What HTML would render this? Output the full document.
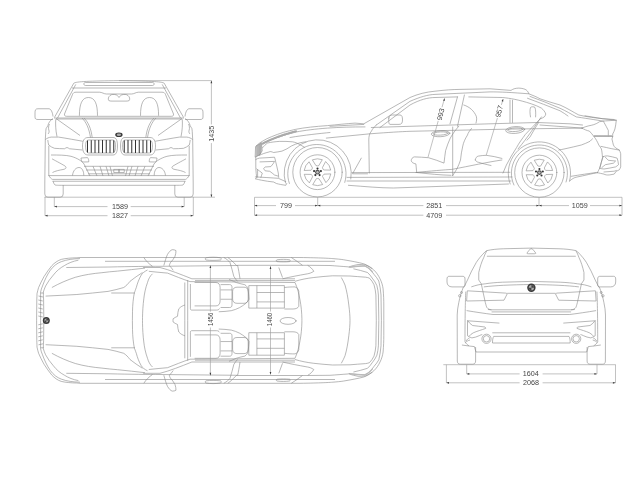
<!DOCTYPE html>
<html><head><meta charset="utf-8">
<style>
html,body{margin:0;padding:0;background:#fff;width:640px;height:480px;overflow:hidden}
svg{display:block;will-change:transform}
.l{fill:none;stroke:#888;stroke-width:0.6;stroke-linecap:round;stroke-linejoin:round}
.d{fill:none;stroke:#999;stroke-width:0.6}
.t{font-family:"Liberation Sans",sans-serif;font-size:7.2px;fill:#444;opacity:0.99}
</style></head><body>
<svg width="640" height="480" viewBox="0 0 640 480">
<defs>
<g id="fronthalf" class="l" style="stroke-linecap:butt">
<path d="M73.8,83.2 C76,81.5 90,81 119,80.6"/>
<path d="M119,82.5 L85.5,82.5 C84.3,82.5 83.9,83.2 83.9,84 C83.9,84.9 84.5,85.5 85.5,85.5 L119,85.5"/>
<path d="M72,88 L119,88"/>
<path d="M73.8,83.2 L54.4,117.5 M75.8,84.4 L57.5,118"/>
<path d="M119,94 L106.5,94 C104,94 102,92.2 99.4,92.2 L76,92.2 C74,92.2 73,93 72.5,94.5 L64.5,114 C64.2,115.5 65,116.3 66.5,116.3 L119,116.3"/>
<path d="M79.4,115.8 C79.4,104 82,97.5 88.4,97.5 C95,97.5 97.5,104 97.5,115.8"/>
<path d="M119,97.5 C118,96 117,95 116,94.8 C114,94.2 111.5,94.2 110,95.5 C108.3,97 107.8,99 108.8,100.5 C109.5,101 110.5,101.1 112,101.1 L119,101.1"/>
<path d="M54,118 L119,118 M56,119 L119,119"/>
<path d="M53,116.5 C52.5,112 51,109 49,108.75 L38,108.75 C35.5,108.75 35,110 35,113 L35,117 C35,119 36,119.5 38,119.5 L53,119.5"/>
<path d="M56,118.5 L80,135.5"/>
<path d="M82,118 C86,122 89,128 90.5,137.5 M84,118 C88,122 91,128 92.2,137.5"/>
<path d="M52.8,118.5 C50,120.5 48.5,123 47.8,125.8 C47.3,126.8 46.6,127.6 46.2,128.3 C45.9,129.5 45.8,130.5 45.75,131.7 L45.3,139.6 L44.8,183 M49.5,124 C48.5,126 48.3,128 48.8,130 C49.5,131.5 49,133 48,134 M55.75,119.2 C55.4,124 55.6,130 57,136.7"/>
<path d="M48.8,145.8 L48.8,176"/>
<path d="M45.3,139.6 C47,138.2 49,137.3 51.2,137.1 L58.7,137.1 C63,137.7 67,138.5 71.2,139.2 C75,139.9 79,140.6 82.8,141.25 M47.8,140 C48,141.8 48.3,143.5 48.7,145 C50.5,146.5 52.3,147.6 54.5,148.3 C58,148.6 61,148.7 64.5,148.75 C65.5,148.3 66.2,147.5 67,147.5 C67.8,147.5 68.6,148.4 69.5,148.75 C74,149.2 78,149.6 82.4,150"/>
<path d="M51,155 C58,155 66,155 71,156.3 C77,158 82,161 84,164 C86,168 88,172 90,176"/>
<path d="M52,158.8 C54,160 60,163 65,166 C67,167.5 66,169 63,169.5 C60,170 55,171 52.5,172.5"/>
<path d="M72.5,175.5 C73,170.5 76,167.5 79,167.5 C82,167.5 83.8,171 83.8,175.5"/>
<path d="M81,158 L87.5,157.6 C88.5,158.5 88.9,160.5 88.7,161.9 L82.5,162 C81.5,161 81,159.5 81,158 Z"/>
<path d="M84,166.3 L119,166.3 M86,170 L119,170 M88,173.8 L119,173.8"/>
<path d="M93,166.3 L97,176 M100,166.3 L103,176 M106,166.3 L109,176 M110,166.3 L112.5,176"/>
<path d="M113.75,169.4 L119,169.4 L119,172.5 L113.75,172.5 Z"/>
<path d="M48.8,175.6 L119,175.6 M52.5,179.4 L119,179.4 M52.5,181.25 L119,181.25 M63.2,185.3 L119,185.3" />
<path d="M48.8,175.6 C50,177.5 51,178.8 52.5,179.4 M53.1,181.25 C53.5,182.8 54,184 55,185 C56,185.3 58,185.3 63.2,185.3"/>
<path d="M44.8,183 L44.8,194 Q44.8,197.2 47.8,197.2 L60.2,197.2 Q63.2,197.2 63.2,194 L63.2,185"/>
<path d="M82.5,146 C82.5,141 84,137.5 88,137.5 L113,137.5 C116,137.5 117.5,140 117.5,146 C117.5,152 116,155 113,155 L88,155 C84,155 82.5,151 82.5,146 Z"/>
<path d="M85.6,146 C85.6,142 86.5,140 89,140 L112.5,140 C114.5,140 115.6,142 115.6,146 C115.6,150 114.5,153 112.5,153 L89,153 C86.5,153 85.6,150 85.6,146 Z"/>
<path d="M87.5,140.5V152.5 M91.25,140.2V152.8 M95,140V153 M98.75,140V153 M102.5,140V153 M106.25,140V153 M110,140V153 M113.75,140.3V152.7" style="stroke:#333;stroke-width:1"/>
</g>
</defs>

<!-- FRONT VIEW -->
<use href="#fronthalf"/>
<use href="#fronthalf" transform="translate(238,0) scale(-1,1)"/>
<ellipse cx="118.9" cy="134.8" rx="3.7" ry="2.3" fill="#3a3a3a"/><ellipse cx="118.9" cy="134.8" rx="2.2" ry="1.3" fill="#aaa"/>

<!-- front dims -->
<g class="d">
<path d="M119,80.6 L211.5,80.6"/>
<path d="M211.4,80.6 L211.4,124.4 M211.4,143.1 L211.4,197"/>
<path d="M44.5,197.2 L215,197.2"/>
<path d="M45,197 L45,215.7 M54.3,197 L54.3,206.6 M184.2,197 L184.2,206.6 M193.3,197 L193.3,215.7"/>
<path d="M54.3,206.6 L107.5,206.6 M130.7,206.6 L184.2,206.6"/>
<path d="M45,215.7 L107.5,215.7 M130.7,215.7 L193.3,215.7"/>
</g>
<text class="t" x="120" y="209.2" text-anchor="middle">1589</text>
<text class="t" x="120" y="218.3" text-anchor="middle">1827</text>
<text class="t" transform="translate(214,133.75) rotate(-90)" text-anchor="middle">1435</text>

<!-- SIDE VIEW -->
<g class="l">
<!-- outer body -->
<path d="M256,146.1 C258,144.2 260,142.6 262.2,141.4 C265,139.6 268,138 271.5,136.7 C275.5,135.1 279.3,133.6 283.3,132.4 C287.5,131.2 291.5,130.2 295.8,129.3 C305,127.5 315,126.5 327.5,125.6 C337,124.7 347,123.6 355,123.1 L363.8,123.8 L410,97.5 C418,94 426,92 435,91.2 C445,90 452,89.5 460,89.4 L490,88.8 L511,90.4 C513,89 515,88.2 518.8,88.1 C522,88.2 525,89 526.3,90 C527.5,91 528.5,92.5 528.8,93.8 C533,95.5 537,97 540,98.8 C547,101.2 553,103 560,105 C567,108 573,112 578.8,115 C587,117 596,118 603.8,118.8 L616.3,120.2 C616,123.5 615.5,126.5 614.9,129 C614.3,131 613.5,132.6 612.7,134 L612.7,137 C612.3,137.8 612,138.5 612,139.2 C612.5,141.5 613,143.3 613.4,145 C614,146.2 614.7,147.2 615.6,147.9 C617,148.7 618.2,149.4 619.3,150.1 C619.9,151.2 620.4,152.4 620.7,153.7 L620.7,166.9 C620.3,168 619.8,169 619.3,169.8 C618.3,170.4 617.3,170.8 616.3,171.2 C615.6,172.2 614.9,173.2 614.2,174.1 L609.8,174.9 C607,175.2 605,174.8 604,174.1 C601.5,173.5 599.5,173.2 597.4,172.7"/>
<path d="M255.8,157 L255.8,168.5 C256,172 256.4,175 256.7,177.8 L255.3,178.8 C258,179.5 259.5,179.8 261.4,180.2 C265,181 270,181.6 273.6,182 C274.5,182.6 275.5,183.1 276.4,183.5 C279,184.2 282,184.8 285.8,185.3 L286.7,183.5"/>
<!-- hood lines -->
<path d="M262,144.4 C265,142.8 268,141.2 271.5,139.7 C275,138.2 279,136.8 283.3,135.5 C287.5,134.3 291.5,133 296,132 C305,130.3 315,129 327.5,128.1 C340,127.2 352,126.9 365,126.9"/><path d="M263,143.4 C266,141.9 269,140.4 272,139.2 C276,137.6 280,136.1 283.3,135 C287.5,133.6 291.5,132.5 296,131.3" style="stroke:#aaa;stroke-width:2.2;stroke-dasharray:0.4 1.2"/>
<path d="M262.3,148 C264,146 265.5,144.5 267.6,143 C271,142.2 275,141.7 279.3,141.4 C284,141.3 288,141.4 292.6,141.8 C295,142.3 297,143 299.7,144.5 L304.4,147.2 M290,137.5 C305,135 320,133.5 330,132.5"/>
<path d="M326.3,138.1 L370,133.8 C390,132.3 400,131.7 410,131.3 L490,129.5 C520,128.9 550,128.5 582.5,128.1"/>
<!-- cowl -->
<path d="M330,126.3 L363.8,124.4"/>
<!-- A pillar lines -->
<path d="M376.3,125 L410,101.3 C420,97 428,94.6 435,94.4 L490,91.9 C500,91.8 512,92.5 528.8,93.8"/>
<path d="M380,127.5 L410,105 C420,99.5 428,97.6 435,97.5 L457.5,96.9"/>
<!-- front window rear edge / B pillar -->
<path d="M457.5,96.9 L450,123.8 M464.4,95 L457.5,126.3 M468.8,96.9 L502.5,97.5 C510,98.3 518,99.5 531.2,103.8 C535,105 538.5,106.5 541.4,108.1 C543.5,109.8 545,111.8 545.8,114 C545.5,115.2 545,116.2 544.3,116.9 C543,117.8 541.5,118.5 540,119"/>
<path d="M510,100 L510,122.5 M512.5,100.2 L512.5,122.5"/>
<!-- rear window lines -->
<path d="M530,96.4 C540,100 550,104 560,108.25 C566,111 571,114 576.3,116.9 C590,119 600,120.5 603.8,121.3"/>
<path d="M527.5,98.25 C538,102 549,106.5 560,110.75 C563,112.5 566,114.5 568,116"/>
<!-- beltline -->
<path d="M371.3,127.5 L410,126.3 L490,123.8 L537.5,122.5 L570,123.8 L582.5,125"/>
<path d="M540,125 L582.5,128.1"/>
<!-- mirror -->
<path d="M388.8,118 C389,116 390.5,115 392.5,115 L400,115 C402,115 402.5,117 402.5,120 C402.5,123 401.5,124.4 399,124.4 L390,124.4 C388.8,124.4 388.5,121 388.8,118 Z"/>
<!-- front door front edge -->
<path d="M376.3,125 C374,127 372.5,129 371.5,131 C369.5,133.5 368.8,136 368.8,140 L369.3,173.1"/>
<!-- B pillar/door -->
<path d="M452.7,127 L452.7,175.6"/>
<path d="M471.5,128.5 C469.5,131 468,133 467.5,135 C465,139 463.5,142.5 462.8,145.9 C461.7,150.5 461,155 460.5,160 C459.5,163 458.2,166.5 456.6,169.4 L452.7,175.6"/>
<!-- rear door rear edge -->
<path d="M540,119 C535,124.5 530,129.5 525.4,134.4 C522,139 519,143 516.6,147.5 C513,153 509.5,159 506.4,165 L503,173"/>
<path d="M541.4,116.9 C535,126 528,137 518.1,148.9 M538.5,122.7 C535.5,127.5 532.5,132.5 529.8,137.3 L526.9,140.2"/>
<!-- handles -->
<ellipse cx="440.6" cy="133.7" rx="9.3" ry="3" transform="rotate(-3 440.6 133.7)"/><ellipse cx="440.6" cy="133.5" rx="7.5" ry="1.6" transform="rotate(-3 440.6 133.5)"/>
<ellipse cx="515.2" cy="130" rx="9.5" ry="3.4" transform="rotate(-4 515.2 130)"/><ellipse cx="515.2" cy="129.7" rx="7.6" ry="1.8" transform="rotate(-4 515.2 129.7)"/>
<!-- door bottom & sills -->
<path d="M352,172.6 L510,172.3 M347,177.4 L512,177 M347,181 L511,181 M348.4,185.3 C365,186.5 380,188 393.4,188 L508.5,184"/>
<!-- fender vent -->
<path d="M361.3,158.1 L352.5,173.8 L367.5,173.8"/>
<!-- front arches -->
<path d="M285.50,183 A33.6,33.6 0 1 1 350.83,179"/>
<path d="M289.39,183.5 A29.2,29.2 0 1 1 344.77,182.4"/>
<!-- rear arches -->
<path d="M510.17,184 A31.2,31.2 0 1 1 569.58,181"/>
<path d="M513.94,185 A28.1,28.1 0 1 1 566.05,182"/>
<!-- rear bumper -->
<path d="M569.6,181 C572,179 574,177.5 577,177 C585,175.5 592,173.5 597.4,172.7 M571.3,176.3 C580,174.8 589,173.5 596.3,172.5"/>
<path d="M604,172 L614.2,171.2 L616.3,170.5"/>
<path d="M601,146.4 C605,147.2 608,147.9 611.2,148.6 L619.3,150.1 M593.8,136.3 C596,139 597.5,142 598.8,145 C599.8,146.5 600.8,147.8 601.3,148.8 C601.8,150 602.2,153.5 602.5,157.5 C601.8,161 600.8,164.5 600,167.5 C599,169.5 598.2,171.2 597.4,172.7"/>
<path d="M603.2,156.6 C604.5,156 606,155.9 607.6,155.9 C611,156.5 614,157.2 617.1,158.1 C617.8,160 618.3,162.3 618.5,164.7 C617.6,165.6 616.6,166.3 615.6,166.9 C612,167.7 608,168.4 604,169 C602.5,168.9 601,168.7 599.6,168.3 C600.5,164.4 601.8,160.5 603.2,156.6 Z M605.4,157.4 C606.5,158.3 607.5,159.3 608.3,160.3 C610.7,160.6 613.2,160.8 615.6,161 C614.9,161.8 614.2,162.5 613.4,163.2 C610.7,163.7 608,164.2 605.4,164.7 C604.2,165.6 603,166.6 601.8,167.6"/>
<path d="M592.5,138.8 C591.5,139.6 590.8,140.4 590,141.3 C587,142.8 584.2,144 581.3,145 C576,146.3 570.5,147.6 565,148.8 C562.8,149.3 560.8,149.7 558.8,150"/>
<path d="M585,115.8 C591,116.8 597,117.8 602.5,118.7 L614.2,119.5 M604,122.4 C605.5,125 607,127.8 608.3,130.4 L608.3,136.2"/>
<!-- taillight -->
<path d="M581.9,128.1 C584,127.2 586.5,126.3 588.8,125.8 C592,125.2 595.5,124.6 599.6,121.7 C601.5,121.3 603.5,121 605.4,120.9 L616.3,120.2 M581.9,128.1 C584.5,129.5 586.8,130.6 589.4,131.1 C591,132.8 592.4,134.5 593.8,136.3 L612.7,136.5"/><path d="M594.5,136 L611.5,136" style="stroke:#aaa;stroke-width:1.6"/>
<!-- front end -->
<path d="M255.9,146.4 L261.4,142.6 L262.2,150.8 L259.8,154.7 L255.5,157 Z" style="fill:#d0d0d0;stroke:#888"/><path d="M257,146 L257,156 M258.2,145.2 L258.2,155.6 M259.4,144.4 L259.4,155 M260.6,143.6 L260.6,154" style="stroke:#888;stroke-width:0.5"/>
<path d="M259.5,155.3 C262,154 265,153 268.9,152 C269.5,151.7 270.2,151.5 270.8,151.6 C271.8,151.8 272.8,152.2 273.6,152.5 C276.5,152.2 279.5,151.6 282,151.1 C285.5,149.8 288.5,148 291.4,146 C294,144.6 297,143.6 300,142.8 C302,142.3 304,142 306,141.8"/>
<path d="M255.8,159.5 C257,158.8 258.2,158.3 259.5,158.1 C262,157.9 264.5,157.8 267,157.7 L274.5,157.2 C275,158.5 275.3,159.8 275.5,161 C276.5,165 277.5,169 278.3,173.1 L278.7,177.4"/>
<path d="M260,161.9 L274.5,161.4 C274,162.3 273.6,163 273.1,163.8 C272.3,164.8 271.6,165.7 270.8,166.6 L265.1,167 C264.5,167.5 264,168 263.7,168.5 C264,169.3 264.5,170.1 265.1,170.8 L269.8,171.3 C271.5,172.5 273,173.8 274.5,175 L277.8,176"/>
<path d="M256.7,168.9 C258.5,170.3 260.5,171.7 262.3,173.1 C261.8,174.5 261.4,176 260.9,177.4 M257.6,170 L257.6,177 M255.3,176.9 C263,177.3 271,177.8 278.3,178.3 C281,179.5 283.5,180.5 285.8,181.6"/>

<!-- seats -->
<path d="M416.7,172.5 L415.9,163.9 C413.5,163.5 411.5,162.5 411.25,160.5 C411.2,159 412.5,157.2 414.4,156.9 C419,157 424,157.3 428.4,157.7 C434,159.3 439,161 444,163.1 C444.5,159 445,154.5 445.6,150.6 C447,146 448.5,142 450.3,138.1 C452.5,134 455.5,130 458.75,126.25"/>
<path d="M416.7,172.5 C430,174 440,175 451,175.3"/>
<path d="M415.9,172.5 C430,171 445,169.8 451.9,169.4 C470,166 488,162 501.9,160"/>
<path d="M475.3,160 C475.5,158 476.5,156.5 478.4,156.1 C481,155.6 483.5,155.4 486.25,155.3 C491.5,156 497,157 501.9,158.4 M475.3,160 C476,161.3 477,162 478.4,162.3 C482.5,163.5 486.5,164.5 491,165.5"/>
<path d="M463.8,105 C470,107 474,111 476.3,116.3 C477,119 476.5,121 476,123"/>
<path d="M530.5,116.9 C529.8,113 529.8,110 530.5,107.5 C531.5,106.5 534,106.5 535,107.5 C535.8,110 535.8,114 535.6,116.9"/>
<!-- measurement lines -->
<path d="M444.4,98.8 L442.1,106.9 M438.1,121.3 L428.1,156.9" class="d"/>
<path d="M503,99.4 L501.5,104.5 M497.3,118.5 L486.3,155" class="d"/>
</g>
<g class="l">
<circle cx="317.5" cy="172.2" r="24.7"/>
<circle cx="317.5" cy="172.2" r="17.4"/>
<path d="M316.32,165.71 Q317.50,166.13 318.68,165.71 L322.30,159.69 A13.4,13.4 0 0 0 312.70,159.69 Z"/>
<path d="M311.29,169.98 Q312.24,169.16 312.47,167.93 L309.07,161.79 A13.4,13.4 0 0 0 304.26,170.10 Z"/>
<path d="M312.47,176.47 Q312.24,175.24 311.29,174.42 L304.26,174.30 A13.4,13.4 0 0 0 309.07,182.61 Z"/>
<path d="M318.68,178.69 Q317.50,178.27 316.32,178.69 L312.70,184.71 A13.4,13.4 0 0 0 322.30,184.71 Z"/>
<path d="M323.71,174.42 Q322.76,175.24 322.53,176.47 L325.93,182.61 A13.4,13.4 0 0 0 330.74,174.30 Z"/>
<path d="M322.53,167.93 Q322.76,169.16 323.71,169.98 L330.74,170.10 A13.4,13.4 0 0 0 325.93,161.79 Z"/>
<circle cx="317.5" cy="172.2" r="2.4" fill="#555" stroke="none"/><circle cx="317.5" cy="172.2" r="1.2" fill="#bbb" stroke="none"/>
<circle cx="317.50" cy="168.60" r="1.05" fill="#333" stroke="none"/>
<circle cx="314.08" cy="171.09" r="1.05" fill="#333" stroke="none"/>
<circle cx="315.38" cy="175.11" r="1.05" fill="#333" stroke="none"/>
<circle cx="319.62" cy="175.11" r="1.05" fill="#333" stroke="none"/>
<circle cx="320.92" cy="171.09" r="1.05" fill="#333" stroke="none"/>
<circle cx="539.4" cy="172.6" r="24.7"/>
<circle cx="539.4" cy="172.6" r="17.4"/>
<path d="M538.22,166.11 Q539.40,166.53 540.58,166.11 L544.20,160.09 A13.4,13.4 0 0 0 534.60,160.09 Z"/>
<path d="M533.19,170.38 Q534.14,169.56 534.37,168.33 L530.97,162.19 A13.4,13.4 0 0 0 526.16,170.50 Z"/>
<path d="M534.37,176.87 Q534.14,175.64 533.19,174.82 L526.16,174.70 A13.4,13.4 0 0 0 530.97,183.01 Z"/>
<path d="M540.58,179.09 Q539.40,178.67 538.22,179.09 L534.60,185.11 A13.4,13.4 0 0 0 544.20,185.11 Z"/>
<path d="M545.61,174.82 Q544.66,175.64 544.43,176.87 L547.83,183.01 A13.4,13.4 0 0 0 552.64,174.70 Z"/>
<path d="M544.43,168.33 Q544.66,169.56 545.61,170.38 L552.64,170.50 A13.4,13.4 0 0 0 547.83,162.19 Z"/>
<circle cx="539.4" cy="172.6" r="2.4" fill="#555" stroke="none"/><circle cx="539.4" cy="172.6" r="1.2" fill="#bbb" stroke="none"/>
<circle cx="539.40" cy="169.00" r="1.05" fill="#333" stroke="none"/>
<circle cx="535.98" cy="171.49" r="1.05" fill="#333" stroke="none"/>
<circle cx="537.28" cy="175.51" r="1.05" fill="#333" stroke="none"/>
<circle cx="541.52" cy="175.51" r="1.05" fill="#333" stroke="none"/>
<circle cx="542.82" cy="171.49" r="1.05" fill="#333" stroke="none"/>
</g>
<text class="t" transform="translate(443,115) rotate(-75)" text-anchor="middle">993</text>
<text class="t" transform="translate(501.5,112) rotate(-75)" text-anchor="middle">957</text>
<!-- side dims -->
<g class="d">
<path d="M254.5,197.3 L622,197.3"/>
<path d="M254.5,197.3 L254.5,215.2 M622,197.3 L622,215.2 M317.7,197.3 L317.7,205.6 M539,197.3 L539,205.6"/>
<path d="M254.5,205.6 L276,205.6 M295,205.6 L423.4,205.6 M446,205.6 L569,205.6 M590,205.6 L622,205.6"/>
<path d="M254.5,215.2 L423.4,215.2 M446,215.2 L622,215.2"/>
</g>
<text class="t" x="286" y="208.2" text-anchor="middle">799</text>
<text class="t" x="434.3" y="208.2" text-anchor="middle">2851</text>
<text class="t" x="579.8" y="208.2" text-anchor="middle">1059</text>
<text class="t" x="434.3" y="217.8" text-anchor="middle">4709</text>

<!-- TOP VIEW -->
<defs>
<g id="tophalf" class="l" style="stroke-linecap:butt">
<path d="M36.6,320.4 L36.8,300 C36.9,297 37,295.5 37,293.75 C37.5,291.5 38,289.5 38.6,287.5 C40.2,283.8 42,280.2 44,276.6 C46.5,272.8 49,269 51.9,265.6 C54.5,262.9 57.5,260.6 61.25,259.4 C66,258.3 71,257.9 76.9,257.8 L80,257.5 L300,257.5 C320,257.8 330,258.3 335,258.8 C340,259.2 343,259.6 345,260 C352,261.2 358,262.3 363.8,263.8 C368,265.5 371.5,267.5 373.8,270 C376.5,272.5 378.5,275.5 380,278.8 C381.7,282 382.6,285.5 383.1,288.8 C383.6,295 383.8,300 383.8,305 L383.8,320.4"/>
<path d="M40.6,320.4 L40.6,292 C41,290 41.6,288 42.5,286 C44.5,280.5 47,275 50.3,270.3 C53.5,266 57,263.2 61.25,261.7 C67,259.5 73,258.8 80,258.6"/>
<path d="M43.8,320.4 L43.6,300 C43.5,297 43.3,294.5 43.3,292.2 C43.9,290 44.7,288 45.6,286 C47.8,282 50.4,278.4 53.4,275 C56.5,271 60,268 64.4,265.6 C68.5,263 73,261.2 78.4,260.2"/>
<path d="M105,261.3 L335,261.3 M66.3,267.5 L110,267 C130,266.5 150,266.3 160,266.3 L237.5,265.5 M237.5,265.3 L307.5,265.3"/>
<path d="M51.9,287.5 C59,283.5 67,280 75.3,277.3 C84,274.8 93,273.5 101.9,272.7 C107,272.1 112,271.5 117.5,271.1 C127,270.3 136,269 145,268.1"/>
<path d="M45.6,296.1 C56,295.6 66,295.1 76.9,294.5 C87,293.6 98,292.5 108,291.4 C113.5,290.3 118.8,289 123.75,287.5 C126,286 128,284 130,281.3 C134,278 138,275.5 142.5,272.5 M111.25,293 L135,293"/>

<path d="M147.5,270 C144.5,271.5 142.5,273 141.3,275 C139,279 137.5,283 136.3,287.5 C135.3,290 134.8,292 134.4,292.5 C133.3,298 132.6,305 132.5,311.3 L132.4,320.4"/>
<path d="M152.5,273.8 C150,276 148.5,279 147.5,282.5 C145.5,288 144.3,294 143.8,298.8 C143,305 142.6,312 142.5,317.5 L142.5,320.4"/>
<path d="M143.1,267.5 L160,267.5 C170,270 181,274.5 191.9,278.8 L295,278.8 M148.8,271.3 C155,272 161,272.5 167.5,273.1 C175,276 182,279 190,281.6 L295,282.5"/>
<path d="M195,280.6 L295,280.6"/>
<path d="M163.8,265.6 C165,261.5 166,257.5 167.5,254.4 C169,252 170.5,250.2 172.2,249.7 C173.5,249.6 175,249.9 176,250.6 C176,252.5 175.6,254.5 175,256.3 C173.8,258.8 172,261 170.3,262.8 C169.8,263.8 169.5,264.6 169.4,265.6 C170.8,267 172,268.6 173.2,270.3"/>
<path d="M143.8,257.5 C146,261 149,264 152.5,266.3"/>
<path d="M223.8,257.5 C226.5,259 228.5,260.5 230,262.5 C231.5,267 232.5,271.5 233.8,276.3 C235,278.3 236,279.8 237.5,281.3 M227.8,257.5 C230,259 232,260.8 233.5,262.5 C235,263.8 236.3,265 237.2,266 M237.5,265 C238.5,269 239.3,274 240,278.8"/>
<path d="M206,257.8 C210,257 216,257 220.5,257.8 C221.5,258.5 221.5,259.5 220.5,260 C216,260.5 210,260.5 206,260 C205,259.5 205,258.3 206,257.8 Z"/>
<path d="M277,259.8 C281,259.2 286,259.2 289.5,259.8 C290.5,260.3 290.5,261.3 289.5,261.6 C286,262 281,262 277,261.6 C276,261.2 276,260.2 277,259.8 Z"/>
<path d="M307.5,265.3 C310.5,267 312.5,269 313.8,271.3 C311.5,272.8 309.5,273.5 307.5,273.8 C298,275.5 290,277 282.5,278.8 M291.3,257.5 C295,260 299,262.5 302.5,265.3 M278.8,267.5 L282.5,277.5"/>
<path d="M295,282.5 C297.5,288 299,294 300,300 C301.2,306 301.8,313 301.9,318.8 L301.9,320.4"/>
<path d="M295,281.3 C301,279.5 307,278.3 313.8,277.5 C320,276.8 326,276.2 332.5,275.8 L350,276 C355,276.4 360,276.8 365.6,277.2 C367,277.4 368.3,277.7 369.4,278.1 C371.3,280 372.9,282.2 374,284.7 C375,288 375.6,291.5 375.9,295 L376.3,320.4"/>
<path d="M341.3,277.5 C342.8,280 344,282.5 345,285 C346.8,291 348,298 348.8,305 C349.6,311 350,316 350,320.4"/>
<path d="M353.4,268.8 C358,269.8 363,271 367.5,272.5 C369.3,274.2 370.9,276 372.2,278.1 C374.2,280.5 375.8,283 376.9,285.6 C377.7,288.8 378.2,292 378.4,295 L378.8,320.4 M348.8,267.3 C354,266.8 359,266.4 364.7,266 C366.5,266.7 368.1,267.6 369.4,268.8 C371.2,270.6 372.7,272.4 374,274.4 C375.9,276.5 377.5,278.7 378.8,281 C379.9,285.5 380.6,290 381,295 L381.4,320.4 M307.5,265.3 L330,265.5 C336,265.9 342,266.4 348.8,266.9 C352,266 355,264.9 358.1,264.5 C360.6,264.4 363.1,264.6 365.6,265 C367.9,266 370.2,267.3 372.2,268.8"/><path d="M350,267 C356,266.2 361,265.8 365,266 C368,267.3 370.5,269.5 372.5,272" style="stroke:#bbb;stroke-width:1.3"/>
<path d="M190.4,284 L190.4,308.5 C190.4,309.5 190.8,310.1 191.8,310.1 L216.5,310.1 C218,310.1 219,309.5 219.5,308.5"/>
<path d="M194.6,282.5 L216,282.5 C218.5,282.5 220.1,284.5 220.1,287.5 L220.1,301 C220.1,304 218.5,305.9 216,305.9 L194.6,305.9"/>
<path d="M220.6,284.6 L229.5,284.6 C231.2,284.6 232,285.6 232,287.5 L232,305 C232,306.7 231.2,307.5 229.5,307.5 L220.6,307.5"/>
<path d="M232.6,291.5 C232.6,288.7 234.2,287.2 237,287.2 L244,287.2 C246.7,287.2 248.2,288.7 248.2,291.5 L248.2,299 C248.2,301.8 246.7,303.3 244,303.3 L237,303.3 C234.2,303.3 232.6,301.8 232.6,299 Z"/>
<path d="M229,279.5 C232,280.5 234.5,281.8 236.5,282.6 C239.5,283.5 242.5,284.2 244.8,284.7 C246.5,285.8 247.5,287.2 247.9,288.8 C248.5,292 248.9,296 249,299.25 C248.2,300.8 247,302.2 245.8,303.4 C243.8,305 241.7,306.4 239.6,307.6 C237,309 234,310 231.25,310.7 C227,311.3 223,311.6 218.75,311.75 M220.6,289.9 L232,289.9 M220.6,299.25 L232,299.25"/>
<path d="M248.8,285.6 L284.4,285.6 L284.4,308.1 L248.8,308.1 Z M256.9,285.6 L256.9,308.1 M256.9,292.5 L284.4,292.5 M256.9,301.9 L284.4,301.9"/>
<path d="M284.4,287.5 C288,287 292,286.9 295,286.9 C297,287.5 298.5,289 298.8,291.3 L298.8,306.3 C298,308 296,309 293,309 L284.4,309"/>
<path d="M187.7,280 L187.7,320.4 M185,305 C183,305.5 180.5,306.8 178.8,308.8 C178,311 177.8,313.5 177.5,316.3 C176,317 174.3,317.8 173.1,318.8 L173,320.4"/>
<path d="M184.8,282.5 L184.8,320.4"/>
<path d="M38.5,296 L43,297 M38.3,300 L42.8,301 M38.3,304 L42.8,305 M38.3,308 L42.8,309 M38.3,312 L42.8,313 M38.3,316 L42.8,317 M40.6,293 L43.8,293"/>
</g>
</defs>
<use href="#tophalf"/>
<use href="#tophalf" transform="translate(0,640.8) scale(1,-1)"/>
<circle cx="46.3" cy="320.5" r="3.5" fill="#3a3a3a"/>
<circle cx="46.3" cy="320.5" r="2.1" fill="#aaa"/><path d="M46.3,320.5 L46.3,318.4 A2.1,2.1 0 0 1 48.4,320.5 Z M46.3,320.5 L46.3,322.6 A2.1,2.1 0 0 1 44.2,320.5 Z" fill="#444"/>
<ellipse cx="288.1" cy="320.9" rx="8" ry="3.4" class="l"/>
<g class="d">
<path d="M210.4,265.4 L210.4,311.7 M210.4,327.5 L210.4,375.4"/>
<path d="M270.5,266.3 L270.5,311.5 M270.5,327.5 L270.5,374.5"/>
</g>
<text class="t" transform="translate(212.6,319.4) rotate(-90) scale(0.84,1)" text-anchor="middle">1456</text>
<text class="t" transform="translate(272.3,319.5) rotate(-90) scale(0.84,1)" text-anchor="middle">1460</text>

<!-- REAR VIEW -->
<defs>
<g id="rearhalf" class="l" style="stroke-linecap:butt">
<path d="M485,251.9 L486.9,250.6 C492,249.5 497,249 503.75,248.75 L531.4,248.1"/>
<path d="M486.9,256.25 L531.4,256.25"/>
<path d="M485,251.9 C481,256 478.5,259 476.25,262.5 C473,268 470,274 467.5,280 L463.75,287.5"/>

<path d="M486.9,250.6 C485.5,253 484.5,255 483.75,257.5 C481.5,262 480,267 478.75,272.5 L478.75,280 C479.5,281.3 480.5,282.5 481.25,283.75 C482.5,290 484,296 485.3,302.5 C486,305 486.5,307 486.9,307.5 C488,309 489.5,309.7 491.6,309.8 L531.4,309.8"/>
<path d="M449,276.3 L463,276.3 C464.5,276.3 465,277.5 465,279 L465,285 C465,286.3 464,286.9 462.5,286.9 L452,286.9 C449,286.9 447,285 447,282 L447,279 C447,277.2 447.8,276.3 449,276.3 Z"/>
<path d="M471.3,286.9 C476,285.2 480,284.3 485.3,283.8 C490,283 496,282.5 502.5,282.2 L531.4,281.4"/>
<path d="M483.8,286.9 C495,285.5 510,284.8 531.4,284.5"/>
<path d="M467.3,290.8 L505.6,293.1 C506.5,293.3 507.2,293.6 507.2,293.9 L504,300.2 L466.6,301 Z"/>
<path d="M507.2,293.3 L531.4,293.3"/>
<path d="M491.6,311.9 L531.4,311.9"/>
<path d="M463.4,286.9 C461.5,292 459.8,297 458.8,302.5 C457.8,307 457.3,311 457.2,315 L457.3,361 C457.3,363 458.3,364.2 460.3,364.2 L472.6,364.2 C474.6,364.2 475.6,363 475.6,361 L475.6,347"/>
<path d="M465.8,291.6 C465.3,300 465,320 465,341.9"/>
<path d="M466.6,310.6 C475,312 485,313.5 493,314.5 L531.4,314.5"/>
<path d="M468,320.8 L499.4,323.1"/>
<path d="M467.5,320.4 C469,322.5 470.5,324.3 472.6,325.5 C476.5,326 481,326.5 485,327 C485.5,327.4 485.7,328 485.7,328.4 C483.5,329.2 481.5,329.9 479.2,330.6 C477,331.4 475,332 473.3,332.8 C471.5,333.8 470,335 469,336.4 M467.5,320.4 L467.5,335.7 C469,336.8 470.5,337.5 471.9,337.9 C474.5,337.5 477,336.8 479.2,335.7 C480.5,335 481.5,334.6 482.3,334.6 M466,341 C467,339.5 468,338.5 469.5,338 M465.5,342.5 C466.5,341.5 468,340.5 470,340"/>
<circle cx="486.5" cy="338.8" r="4.6"/>
<circle cx="486.5" cy="338.8" r="3.2"/>
<circle cx="459.8" cy="295.8" r="1.2"/><circle cx="461.5" cy="292.5" r="1"/>
<path d="M492.3,332.8 L531.4,332.8 M493.7,336.4 L531.4,336.4 M493.7,336.4 C492.8,338 492.5,340 492.5,343 L531.4,343 M487.9,309.5 L491.6,309.8"/>
<path d="M476,352 L531.4,352"/>
<path d="M461.9,345 C466,345.6 470,346.2 474.4,346.6 L476,352"/>
<path d="M465,341.9 C466,343.5 467.5,345 469,345.8"/>
<path d="M531.4,253.75 L528.75,253.75 C527.5,253.75 526.7,253.5 526.9,253.1 C528,251.5 529.4,250 530.6,248.75 L531.4,248.75"/>
</g>
</defs>
<use href="#rearhalf"/>
<use href="#rearhalf" transform="translate(1062.7,0) scale(-1,1)"/>
<circle cx="531.4" cy="287.7" r="4.2" fill="#3a3a3a"/>
<circle cx="531.4" cy="287.7" r="2.6" fill="#aaa"/><path d="M531.4,287.7 L531.4,285.1 A2.6,2.6 0 0 1 534,287.7 Z M531.4,287.7 L531.4,290.3 A2.6,2.6 0 0 1 528.8,287.7 Z" fill="#444"/>
<g class="d">
<path d="M443.3,364.7 L615.7,364.7"/>
<path d="M446.4,364.7 L446.4,382.8 M466.7,364.7 L466.7,373.9 M597,364.7 L597,373.9 M615.5,364.7 L615.5,382.8"/>
<path d="M466.7,373.9 L519.6,373.9 M542.6,373.9 L597,373.9"/>
<path d="M446.4,382.8 L519.6,382.8 M542.6,382.8 L615.5,382.8"/>
</g>
<text class="t" x="530.7" y="375.9" text-anchor="middle">1604</text>
<text class="t" x="531" y="385.4" text-anchor="middle">2068</text>

<!-- arrows -->
<path fill="#3a3a3a" stroke="none" d="M211.40,80.60 L212.25,83.20 L210.55,83.20 Z M211.40,197.20 L210.55,194.60 L212.25,194.60 Z M54.30,206.60 L56.90,205.75 L56.90,207.45 Z M184.20,206.60 L181.60,207.45 L181.60,205.75 Z M45.00,215.70 L47.60,214.85 L47.60,216.55 Z M193.30,215.70 L190.70,216.55 L190.70,214.85 Z M254.50,205.60 L257.10,204.75 L257.10,206.45 Z M317.70,205.60 L315.10,206.45 L315.10,204.75 Z M317.70,205.60 L320.30,204.75 L320.30,206.45 Z M539.00,205.60 L536.40,206.45 L536.40,204.75 Z M539.00,205.60 L541.60,204.75 L541.60,206.45 Z M622.00,205.60 L619.40,206.45 L619.40,204.75 Z M254.50,215.20 L257.10,214.35 L257.10,216.05 Z M622.00,215.20 L619.40,216.05 L619.40,214.35 Z M444.60,98.30 L444.71,101.03 L443.07,100.57 Z M503.20,98.90 L503.20,101.64 L501.58,101.10 Z M210.40,265.40 L211.25,268.00 L209.55,268.00 Z M210.40,375.40 L209.55,372.80 L211.25,372.80 Z M270.50,266.30 L271.35,268.90 L269.65,268.90 Z M270.50,374.50 L269.65,371.90 L271.35,371.90 Z M466.70,373.90 L469.30,373.05 L469.30,374.75 Z M597.00,373.90 L594.40,374.75 L594.40,373.05 Z M446.40,382.80 L449.00,381.95 L449.00,383.65 Z M615.50,382.80 L612.90,383.65 L612.90,381.95 Z"/>
</svg>
</body></html>
